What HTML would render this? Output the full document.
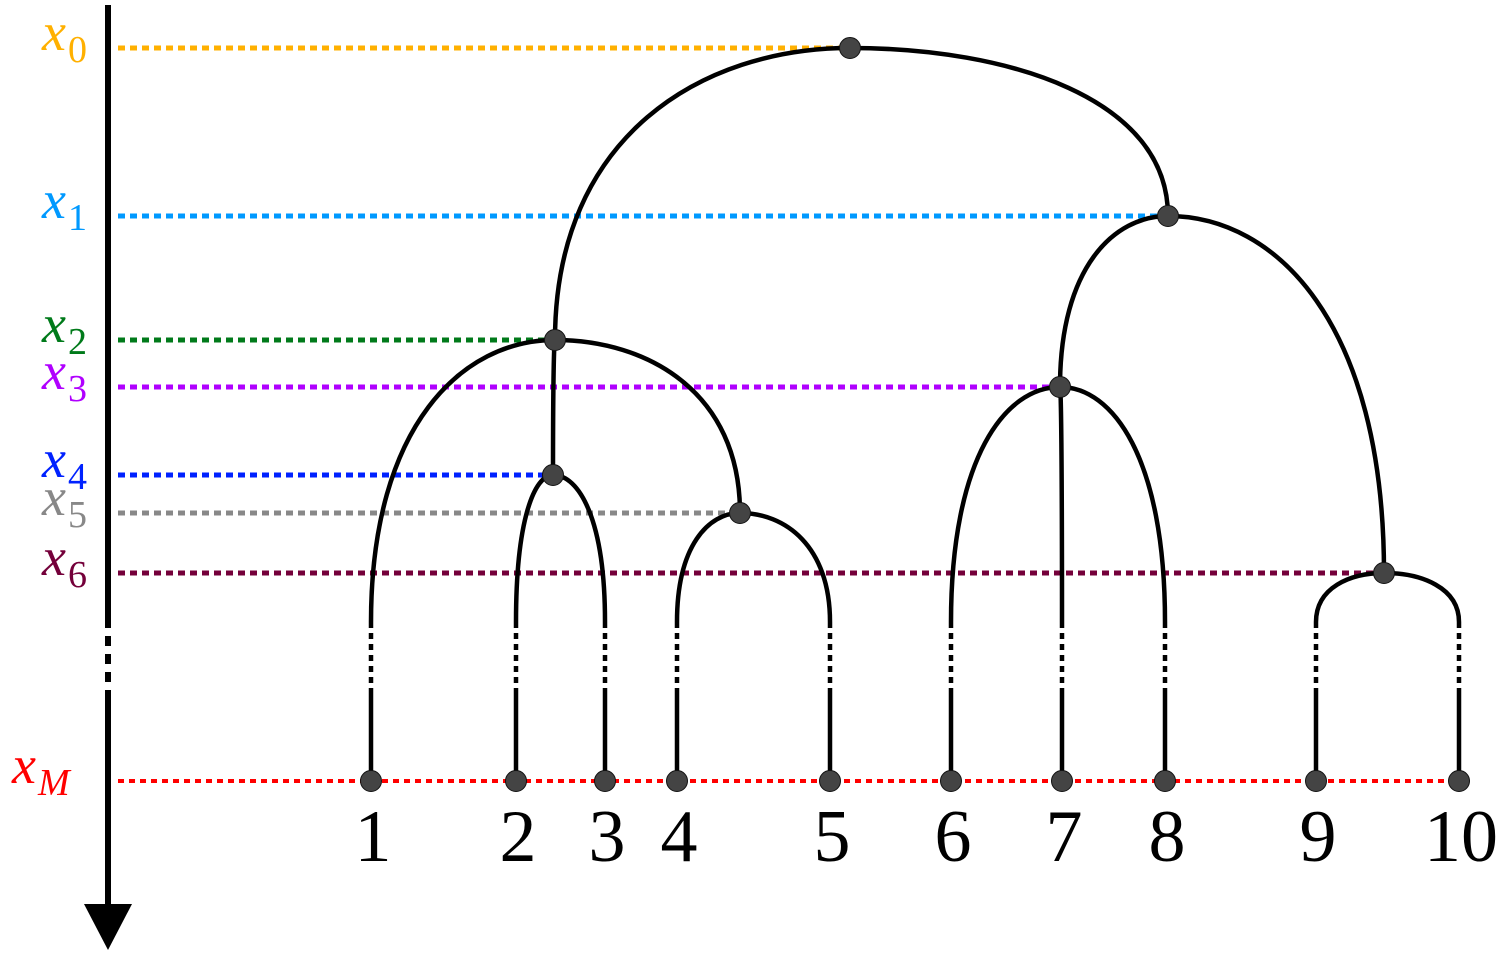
<!DOCTYPE html>
<html><head><meta charset="utf-8"><style>
html,body{margin:0;padding:0;background:#fff}
svg{display:block}
</style></head><body>
<svg id="c" width="1509" height="964" viewBox="0 0 1509 964" font-family="'Liberation Serif', serif"></svg>
<script>
const levelNames = ['0','1','2','3','4','5','6'];
const levelY = [48, 216, 340, 387, 475, 513, 573];
const levelColors = ['#FFB000','#0099FF','#007A1A','#B000FF','#0022FF','#888888','#74003A'];
const leafLabels = ['1','2','3','4','5','6','7','8','9','10'];
const leafX = [371, 516, 605, 677, 830, 951, 1062, 1165, 1316, 1459];
const nodeX = [850, 1168, 555, 1060, 553, 740, 1384];
const nodeLevel = [0, 1, 2, 3, 4, 5, 6];
const children = [['n2','n1'],['n3','n6'],['l0','n4','n5'],['l5','l6','l7'],['l1','l2'],['l3','l4'],['l8','l9']];
const leafY = 781;

const svg = document.getElementById('c');
const NS = 'http://www.w3.org/2000/svg';
function mk(tag, attrs){const e=document.createElementNS(NS,tag);for(const k in attrs)e.setAttribute(k,attrs[k]);svg.appendChild(e);return e;}

const ax = mk('line',{x1:108,y1:5,x2:108,y2:618,stroke:'#000','stroke-width':6});


const axd = mk('line',{x1:108,y1:618,x2:108,y2:690,stroke:'#000','stroke-width':6,'stroke-dasharray':'10 8'});


const ax2 = mk('line',{x1:108,y1:690,x2:108,y2:910,stroke:'#000','stroke-width':6});


const arr = mk('polygon',{points:'84,904 132,904 108,950',fill:'#000'});



levelY.forEach((y,i)=>{
  const ni = nodeLevel.indexOf(i);
  const l = mk('line',{x1:118,y1:y,x2:nodeX[ni],y2:y,stroke:levelColors[i],'stroke-width':5,'stroke-dasharray':'7 5'});
  
  
  const t = mk('text',{x:42,y:y+2,fill:levelColors[i],'font-size':54,'font-style':'italic'});
  
  
  t.innerHTML = 'x<tspan font-style="normal" font-size="38" dx="2" dy="12">'+levelNames[i]+'</tspan>';
});
const lm = mk('line',{x1:118,y1:leafY,x2:leafX[leafX.length-1],y2:leafY,stroke:'#FF0000','stroke-width':4,'stroke-dasharray':'6 5'});


const tm = mk('text',{x:12,y:leafY+2,fill:'#FF0000','font-size':54,'font-style':'italic'});


tm.innerHTML = 'x<tspan font-size="38" dx="2" dy="12">M</tspan>';

function nodePos(id){
  if(id[0]==='n'){const k=+id.slice(1);return [nodeX[k], levelY[nodeLevel[k]]];}
  const k=+id.slice(1);return [leafX[k], leafY];
}
function curve(px,py,cx,cy){
  return 'M'+px+','+py+' C'+(px+(cx-px)*0.5)+','+py+' '+cx+','+(py+(cy-py)*0.3)+' '+cx+','+cy;
}
children.forEach((ch,p)=>{
  const [px,py] = nodePos('n'+p);
  ch.forEach(c=>{
    const [cx,cy] = nodePos(c);
    if(c[0]==='n'){
      const e = mk('path',{d:curve(px,py,cx,cy),fill:'none',stroke:'#000','stroke-width':4.5});
      
      
    } else {
      const e = mk('path',{d:curve(px,py,cx,622),fill:'none',stroke:'#000','stroke-width':4.5});
      
      
      const d = mk('line',{x1:cx,y1:622,x2:cx,y2:690,stroke:'#000','stroke-width':4.5,'stroke-dasharray':'6 5'});
      
      
      const s = mk('line',{x1:cx,y1:690,x2:cx,y2:cy,stroke:'#000','stroke-width':4.5});
      
      
    }
  });
});

nodeX.forEach((x,k)=>{
  const c = mk('circle',{cx:x,cy:levelY[nodeLevel[k]],r:10.5,fill:'#444',stroke:'#111','stroke-width':1});
  
  
});
leafX.forEach((x,k)=>{
  const c = mk('circle',{cx:x,cy:leafY,r:10.5,fill:'#444',stroke:'#111','stroke-width':1});
  
  
  const t = mk('text',{x:x+2,y:861,'text-anchor':'middle','font-size':74,fill:'#000'});
  
  
  t.textContent = leafLabels[k];
});
</script>
</body></html>
